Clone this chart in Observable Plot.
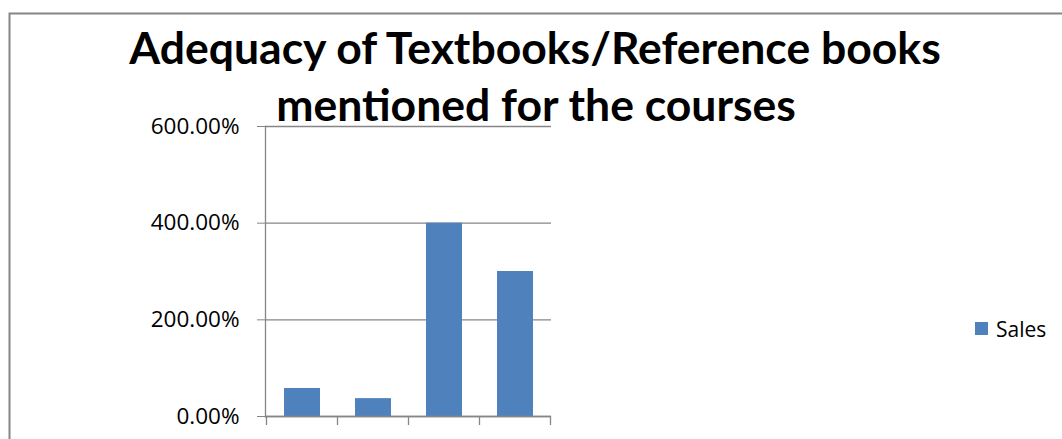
<!DOCTYPE html>
<html>
<head>
<meta charset="utf-8">
<script src="https://cdn.jsdelivr.net/npm/d3@7"></script>
<script src="https://cdn.jsdelivr.net/npm/@observablehq/plot@0.6"></script>
<style>
  html, body { margin: 0; padding: 0; background: #fff; overflow: hidden; }
  #chart { position: relative; width: 1062px; height: 439px; }
</style>
</head>
<body>
<div id="chart"></div>
<script>
const categories = ["1", "2", "3", "4"];
const sales = [0.58, 0.37, 4.0, 3.0];
const yTicks = [0, 2, 4, 6];
const titleLines = ["Adequacy of Textbooks/Reference books", "mentioned for the courses"];
const seriesName = "Sales";

const data = categories.map((c, i) => ({category: c, value: sales[i]}));
const gray = "#868686";
const barColor = "#4F81BD";

const chart = Plot.plot({
  width: 1062,
  height: 439,
  marginLeft: 265,
  marginRight: 511,
  marginTop: 126,
  marginBottom: 23,
  style: {fontFamily: "'Open Sans', sans-serif", fontSize: "22px", color: "#000", background: "#fff"},
  x: {domain: categories, paddingInner: 0.5, paddingOuter: 0.25, axis: null},
  y: {domain: [0, 6], ticks: yTicks, tickFormat: d3.format(".2%"), label: null},
  marks: [
    Plot.gridY(yTicks, {stroke: gray, strokeOpacity: 1, strokeWidth: 1.3}),
    Plot.axisY(yTicks, {tickSize: 8, tickPadding: 18, stroke: gray, strokeOpacity: 1, fill: "#000", fontSize: 22.5, label: null, tickFormat: d3.format(".2%")}),
    Plot.barY(data, {x: "category", y: "value", fill: barColor}),
    Plot.frame({anchor: "left", stroke: gray, strokeWidth: 1.3}),
    Plot.ruleY([0], {stroke: gray, strokeWidth: 1.3})
  ]
});

document.getElementById("chart").appendChild(chart);

// category boundary ticks from the band scale
const svg = d3.select(chart);
const xs = chart.scale("x");
const ys = chart.scale("y");
const y0 = ys.apply(0);
const bounds = categories.map(c => xs.apply(c) + xs.bandwidth / 2 - xs.step / 2);
bounds.push(xs.apply(categories[categories.length - 1]) + xs.bandwidth / 2 + xs.step / 2);
svg.append("g").selectAll("line").data(bounds).join("line")
  .attr("x1", d => d).attr("x2", d => d)
  .attr("y1", y0).attr("y2", y0 + 9)
  .attr("stroke", gray).attr("stroke-width", 1.3);

// outer chart border
svg.append("rect")
  .attr("x", 9.5).attr("y", 13.5).attr("width", 1200).attr("height", 600)
  .attr("fill", "none").attr("stroke", gray).attr("stroke-width", 2);

// title
const title = svg.append("g")
  .attr("font-family", "Lato, 'Open Sans', sans-serif")
  .attr("font-weight", "bold")
  .attr("font-size", 44.5)
  .attr("text-anchor", "middle")
  .attr("fill", "#000");
title.append("text").attr("x", 535).attr("y", 64).text(titleLines[0]);
title.append("text").attr("x", 536).attr("y", 121).text(titleLines[1]);

// legend
const legend = svg.append("g").attr("text-anchor", "start");
legend.append("rect").attr("x", 975).attr("y", 322).attr("width", 13).attr("height", 13).attr("fill", barColor);
legend.append("text").attr("x", 996).attr("y", 337)
  .attr("font-family", "'Open Sans', sans-serif").attr("font-size", 21).attr("fill", "#000")
  .attr("text-anchor", "start")
  .text(seriesName);
</script>
</body>
</html>
